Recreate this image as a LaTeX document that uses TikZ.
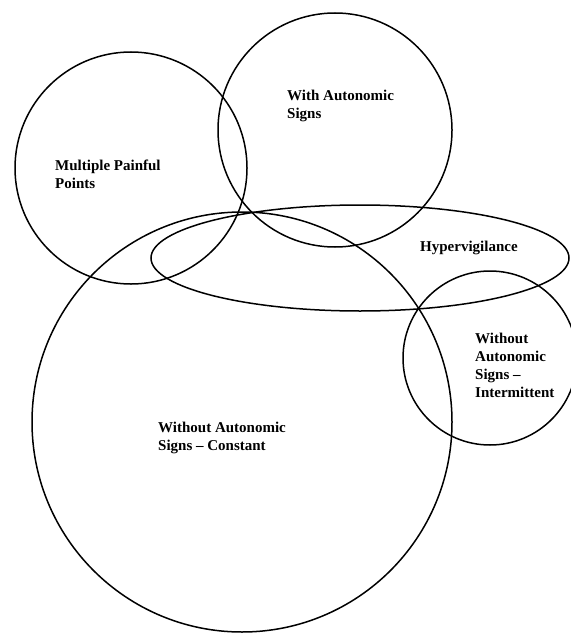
\documentclass[tikz,border=0pt]{standalone}
\usepackage{fontspec}
\setmainfont{Liberation Serif}
\begin{document}
\begin{tikzpicture}[x = 1pt, y = -1pt,
    ring/.style = {line width = 1.5pt},
    setname/.style = {align = left, anchor = west, inner sep = 0pt,
                      font = \bfseries\fontsize{15}{18}\selectfont}]
      \fill [white] (0,0) rectangle (570,634);
      \useasboundingbox (0,0) rectangle (570,634);
      \draw [ring] (131,168) circle (116pt);
      \draw [ring] (335,130) circle (117pt);
      \draw [ring] (242,422) circle (210pt);
      \draw [ring] (360,258) ellipse (209pt and 53pt);
      \draw [ring] (490,358) circle (87pt);
      \node [setname] (pain) at (55,174) {Multiple Painful\\Points};
      \node [setname] (auto) at (287,106) {With Autonomic\\Signs};
      \node [setname] (hyper) at (420,248) {Hypervigilance};
      \node [setname] (const) at (158,438) {Without Autonomic\\Signs -- Constant};
      \node [setname] (inter) at (475,365) {Without\\Autonomic\\Signs --\\Intermittent};
    \end{tikzpicture}
\end{document}
